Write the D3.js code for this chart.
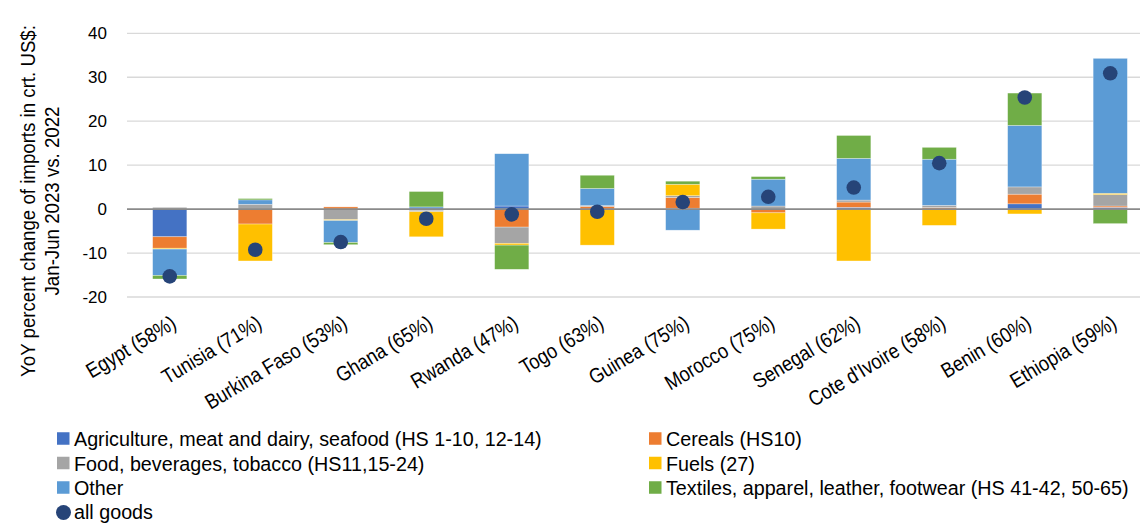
<!DOCTYPE html>
<html>
<head>
<meta charset="utf-8">
<script src="https://cdn.jsdelivr.net/npm/d3@7"></script>
<style>
  body { margin: 0; background: #fff; }
  svg { display: block; }
  .narrow { font-family: "Liberation Sans", Arial, sans-serif; fill: #000; }
  .tick-label { font-family: "Liberation Sans", Arial, sans-serif; font-size: 17px; fill: #000; }
</style>
</head>
<body>
<svg width="1140" height="523"></svg>
<script>
// Categories and series
var countries = ["Egypt (58%)", "Tunisia (71%)", "Burkina Faso (53%)", "Ghana (65%)", "Rwanda (47%)",
  "Togo (63%)", "Guinea (75%)", "Morocco (75%)", "Senegal (62%)", "Cote d'Ivoire (58%)",
  "Benin (60%)", "Ethiopia (59%)"];

var agriculture = [-6.3, 0, 0, -0.3, 0.7, 0, 0.2, 0, 0.4, 0, 1.2, 0.4];
var cereals     = [-2.6, -3.4, 0.5, 0, -4.1, 0.6, 2.45, -0.85, 1.2, 0.35, 2.2, 0.3];
var food        = [0.4, 1.1, -2.4, -0.3, -3.7, 0.2, 0.4, 0.7, 0.45, 0.5, 1.65, 2.6];
var fuels       = [-0.2, -8.4, -0.2, -5.7, -0.4, -8.2, 2.6, -3.7, -11.8, -3.7, -1.1, 0.3];
var other       = [-6.0, 1.0, -5.0, 0.5, 11.9, 3.9, -4.8, 6.1, 9.5, 10.5, 14.0, 30.7];
var textiles    = [-0.8, 0.3, -0.5, 3.5, -5.5, 3.0, 0.7, 0.6, 5.2, 2.7, 7.35, -3.3];
var allGoods    = [-15.3, -9.25, -7.5, -2.2, -1.2, -0.6, 1.6, 2.8, 4.9, 10.45, 25.4, 30.9];

var yTicks = [-20, -10, 0, 10, 20, 30, 40];

var series = [
  {key: "agri", name: "Agriculture, meat and dairy, seafood (HS 1-10, 12-14)", color: "#4472C4", values: agriculture},
  {key: "cereals", name: "Cereals (HS10)", color: "#ED7D31", values: cereals},
  {key: "food", name: "Food, beverages, tobacco (HS11,15-24)", color: "#A5A5A5", values: food},
  {key: "fuels", name: "Fuels (27)", color: "#FFC000", values: fuels},
  {key: "other", name: "Other", color: "#5B9BD5", values: other},
  {key: "textiles", name: "Textiles, apparel, leather, footwear (HS 41-42, 50-65)", color: "#70AD47", values: textiles}
];
var dotColor = "#264478";

// no narrow font installed, so text gets squeezed with scale(k,1)
var squeeze = 0.94;

// rows for d3.stack
var rows = countries.map(function(c, i) {
  var r = {country: c, all: allGoods[i]};
  series.forEach(function(s) { r[s.key] = s.values[i]; });
  return r;
});

var svg = d3.select("svg");

var x = d3.scaleBand()
  .domain(countries)
  .range([127, 1153])
  .paddingInner(0.6)
  .paddingOuter(0.3);

var y = d3.scaleLinear()
  .domain([-20, 40])
  .range([297, 33.3]);

// gridlines
svg.append("g")
  .selectAll("line")
  .data(yTicks.filter(function(d) { return d !== 0; }))
  .enter().append("line")
    .attr("x1", 127)
    .attr("x2", 1153)
    .attr("y1", function(d) { return y(d); })
    .attr("y2", function(d) { return y(d); })
    .attr("stroke", "#d9d9d9")
    .attr("stroke-width", 1.3);

// tick labels
svg.append("g")
  .selectAll("text")
  .data(yTicks)
  .enter().append("text")
    .attr("class", "tick-label")
    .attr("x", 107)
    .attr("y", function(d) { return y(d); })
    .attr("dy", "0.36em")
    .attr("text-anchor", "end")
    .text(function(d) { return d; });

var stack = d3.stack()
  .keys(series.map(function(s) { return s.key; }))
  .offset(d3.stackOffsetDiverging);

var stacked = stack(rows);

svg.append("g")
  .selectAll("g")
  .data(stacked)
  .enter().append("g")
    .attr("fill", function(d, i) { return series[i].color; })
  .selectAll("rect")
  .data(function(d) { return d; })
  .enter().append("rect")
    .attr("x", function(d) { return x(d.data.country); })
    .attr("width", x.bandwidth())
    .attr("y", function(d) { return y(Math.max(d[0], d[1])); })
    .attr("height", function(d) { return Math.abs(y(d[0]) - y(d[1])); })
    .attr("stroke", "#ffffff")
    .attr("stroke-opacity", 0.5)
    .attr("stroke-width", 0.6);

// zero line
svg.append("line")
  .attr("x1", 127)
  .attr("x2", 1153)
  .attr("y1", y(0))
  .attr("y2", y(0))
  .attr("stroke", "#8a8a8a")
  .attr("stroke-width", 1.6);

// all goods dots
svg.append("g")
  .selectAll("circle")
  .data(rows)
  .enter().append("circle")
    .attr("cx", function(d) { return x(d.country) + x.bandwidth() / 2; })
    .attr("cy", function(d) { return y(d.all); })
    .attr("r", 7.3)
    .attr("fill", dotColor);

// category labels
svg.append("g")
  .selectAll("text")
  .data(countries)
  .enter().append("text")
    .attr("class", "narrow")
    .attr("font-size", 21)
    .attr("text-anchor", "end")
    .attr("transform", function(d) {
      return "translate(" + (x(d) + x.bandwidth() / 2 + 8) + ",327) rotate(-31) scale(0.87,1)";
    })
    .text(function(d) { return d; });

// y axis title
var title = svg.append("text")
  .attr("class", "narrow")
  .attr("font-size", 21)
  .attr("text-anchor", "middle")
  .attr("transform", "translate(0,201) rotate(-90) scale(0.89,1)");
title.append("tspan").attr("x", 0).attr("y", 35).text("YoY percent change of imports in crt. US$:");
title.append("tspan").attr("x", 0).attr("y", 59).text("Jan-Jun 2023 vs. 2022");

// legend
var legendItems = [
  {s: series[0], x: 57, y: 438.5},
  {s: series[1], x: 649, y: 438.5},
  {s: series[2], x: 57, y: 463},
  {s: series[3], x: 649, y: 463},
  {s: series[4], x: 57, y: 487.5},
  {s: series[5], x: 649, y: 487.5}
];

var legend = svg.append("g");

legend.selectAll("rect")
  .data(legendItems)
  .enter().append("rect")
    .attr("x", function(d) { return d.x; })
    .attr("y", function(d) { return d.y - 6.25; })
    .attr("width", 12.5)
    .attr("height", 12.5)
    .attr("fill", function(d) { return d.s.color; });

legend.selectAll("text")
  .data(legendItems)
  .enter().append("text")
    .attr("class", "narrow")
    .attr("font-size", 21)
    .attr("dy", "0.36em")
    .attr("transform", function(d) {
      return "translate(" + (d.x + 17) + "," + d.y + ") scale(" + squeeze + ",1)";
    })
    .text(function(d) { return d.s.name; });

legend.append("circle")
  .attr("cx", 63.5)
  .attr("cy", 512.5)
  .attr("r", 7.5)
  .attr("fill", dotColor);

legend.append("text")
  .attr("class", "narrow")
  .attr("font-size", 21)
  .attr("transform", "translate(74,518.5) scale(" + squeeze + ",1)")
  .text("all goods");
</script>
</body>
</html>
